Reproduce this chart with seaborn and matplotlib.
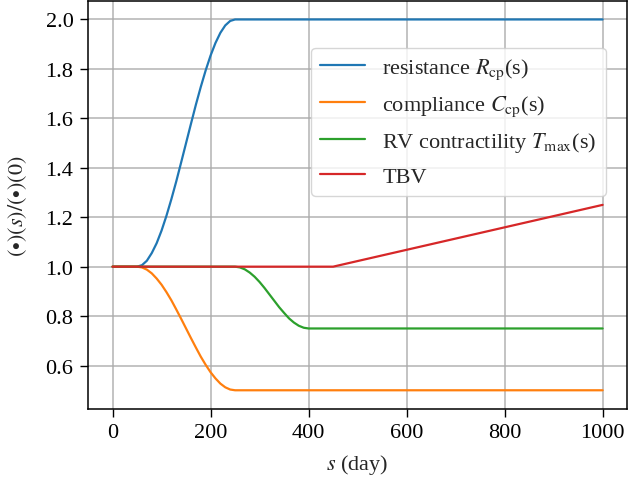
import pandas as pd
import seaborn as sns
import matplotlib.pyplot as plt

# values
s_rcp = [0, 50, 60, 70, 80, 90, 100, 110, 120, 130, 140, 150, 160, 170, 180, 190, 200, 210, 220, 230, 240, 250, 1000]
r_cp = [1.000, 1.000, 1.006, 1.024, 1.055, 1.095, 1.146, 1.206, 1.273, 1.345, 1.422, 1.500,
        1.578, 1.655, 1.727, 1.794, 1.854, 1.905, 1.946, 1.976, 1.994, 2.000, 2.000]
c_cp = [1.000, 1.000, 0.997, 0.988, 0.973, 0.952, 0.927, 0.897, 0.864, 0.827, 0.789, 0.750,
        0.711, 0.673, 0.636, 0.603, 0.573, 0.548, 0.527, 0.512, 0.503, 0.500, 0.500]
s_tmax = [0, 250, 260, 270, 280, 290, 300, 310, 320, 330, 340, 350, 360, 370, 380, 390, 400, 1000]
t_max = [1.000, 1.000, 0.997, 0.989, 0.976, 0.959, 0.938, 0.914, 0.888, 0.862, 0.836, 0.813,
         0.791, 0.774, 0.761, 0.753, 0.750, 0.750]
s_tbv = [0, 450, 1000]
tbv = [1.0, 1.0, 1.25]

labels = [r'resistance $R_{\rm cp}$(s)', r'compliance $C_{\rm cp}$(s)',
          r'RV contractility $T_{\rm max}$(s)', 'TBV']

sns.set_theme(style="ticks")
plt.rcParams['font.family'] = ['Liberation Serif', 'DejaVu Serif']
plt.rcParams['mathtext.fontset'] = 'stix'
plt.rcParams['font.size'] = 16

fig, ax = plt.subplots(figsize=(6.38, 4.81), dpi=100)
fig.subplots_adjust(left=0.138, right=0.983, top=0.996, bottom=0.148)

d1 = pd.DataFrame({'s': s_rcp, 'v': r_cp})
d2 = pd.DataFrame({'s': s_rcp, 'v': c_cp})
d3 = pd.DataFrame({'s': s_tmax, 'v': t_max})
d4 = pd.DataFrame({'s': s_tbv, 'v': tbv})

sns.lineplot(data=d1, x='s', y='v', ax=ax, color='#1f77b4', lw=1.6, label=labels[0])
sns.lineplot(data=d2, x='s', y='v', ax=ax, color='#ff7f0e', lw=1.6, label=labels[1])
sns.lineplot(data=d3, x='s', y='v', ax=ax, color='#2ca02c', lw=1.6, label=labels[2])
sns.lineplot(data=d4, x='s', y='v', ax=ax, color='#d62728', lw=1.6, label=labels[3])

ax.set_xlim(-50, 1050)
ax.set_ylim(0.425, 2.075)
ax.set_xticks([0, 200, 400, 600, 800, 1000])
ax.set_yticks([0.6, 0.8, 1.0, 1.2, 1.4, 1.6, 1.8, 2.0])
ax.grid(True, color='#aaaaaa', lw=1.1, alpha=0.9)
ax.tick_params(labelsize=16, direction='out', length=5.5, width=1, pad=5, colors='black')
for sp in ax.spines.values():
    sp.set_color('black')
    sp.set_linewidth(1.1)

ax.set_xlabel(r'$s$ (day)', fontsize=16, labelpad=7)
ax.set_ylabel(r'$(\bullet)(s)/(\bullet)(0)$', fontsize=16, labelpad=12)

ax.legend(loc='upper right', bbox_to_anchor=(0.96, 0.885), borderaxespad=0,
          fontsize=16, frameon=True, framealpha=0.8, edgecolor='#cccccc',
          labelspacing=0.55)

fig.savefig('out.png', dpi=100)
